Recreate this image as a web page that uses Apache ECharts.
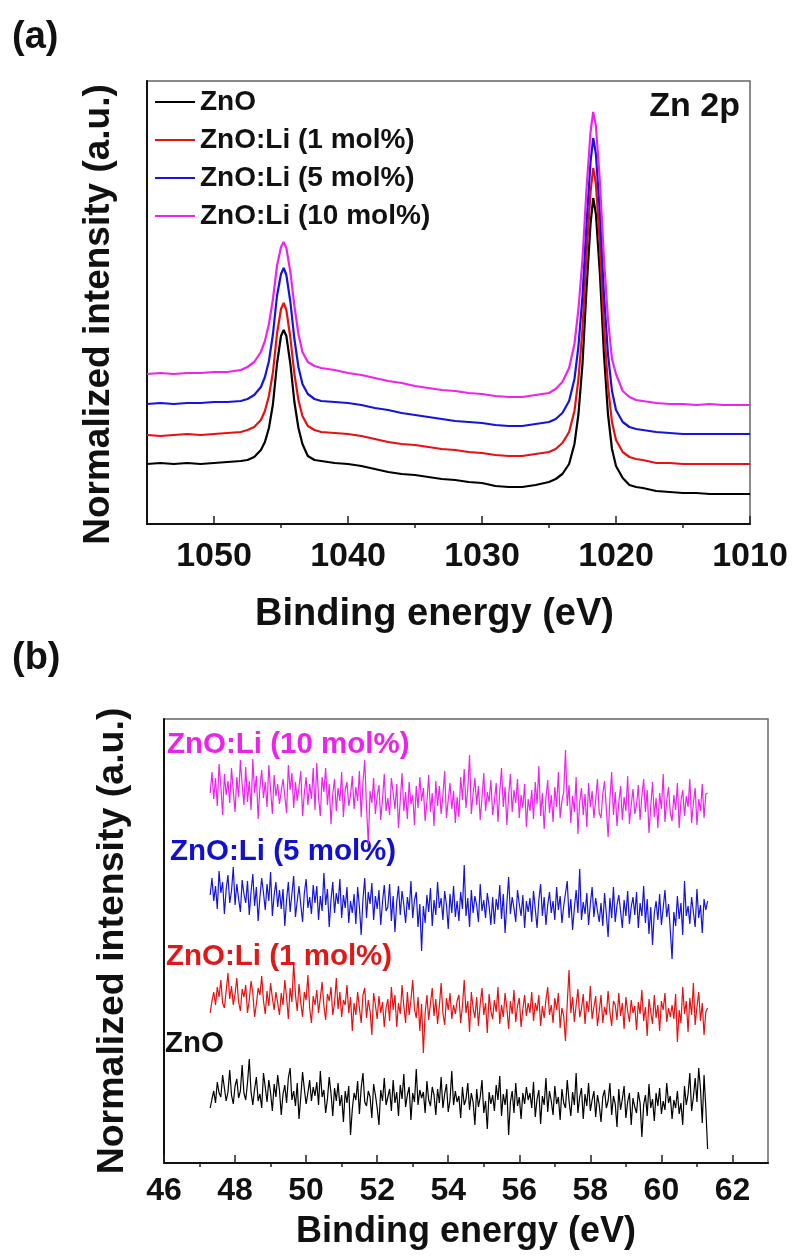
<!DOCTYPE html>
<html><head><meta charset="utf-8">
<script src="https://cdn.jsdelivr.net/npm/echarts@6/dist/echarts.min.js"></script>
<style>html,body{margin:0;padding:0;background:#fff}#c{width:793px;height:1256px}</style>
</head><body><div id="c"></div>
<script>
// ---------- Panel (a): Zn 2p ----------
const energyA = [1055,1054,1053,1052,1051,1050,1049,1048,1047.5,1047,1046.5,1046.2,1045.9,1045.6,1045.3,1045.0,1044.8,1044.6,1044.3,1044.0,1043.7,1043.4,1043.0,1042.5,1042,1041,1040,1039,1038,1037,1036,1035,1034,1033,1032,1031,1030,1029,1028,1027,1026,1025,1024.5,1024,1023.5,1023.1,1022.8,1022.5,1022.2,1021.9,1021.7,1021.5,1021.2,1020.9,1020.6,1020.3,1020.0,1019.5,1019,1018.5,1018,1017,1016,1015,1014,1013,1012,1011,1010];
const znoA  = [60,61,60,61,60,61,62,63,64,67,74,82,96,120,160,188,194,188,160,122,96,80,68,64,63,61,60,58,55,52,50,49,47,45,44,42,41,38,37,37,39,42,45,50,60,80,110,160,235,300,326,310,250,170,110,75,58,46,39,37,36,33,32,31,31,30,30,30,30];
const li1A  = [89,88,89,90,89,90,91,92,94,97,104,113,128,152,190,215,221,214,186,150,124,108,98,94,92,91,90,88,85,82,80,79,77,75,74,72,71,69,68,68,70,72,75,81,92,113,145,195,268,332,356,340,278,198,138,102,84,72,67,65,64,61,61,60,60,60,60,60,60];
const li5A  = [120,121,120,121,121,122,122,123,125,129,137,147,163,190,228,250,256,249,222,185,157,140,130,125,123,122,121,119,116,114,111,109,107,105,103,102,101,99,98,98,100,102,105,111,123,145,178,228,300,362,386,370,310,230,170,133,114,102,97,95,94,92,91,90,90,90,90,90,90];
const li10A = [150,151,150,151,151,152,152,154,157,162,172,183,200,225,258,277,282,276,252,218,190,172,162,158,156,154,151,149,146,143,141,138,136,134,133,131,130,128,127,127,129,131,135,142,156,180,215,265,335,392,412,398,342,265,205,165,150,133,127,124,123,121,120,120,119,120,119,119,119];
const ticksA = [1050,1040,1030,1020,1010];
const minorTicksA = [1045,1035,1025,1015];

// ---------- Panel (b) ----------
const energyB = [
47.30,47.35,47.40,47.45,47.50,47.55,47.60,47.65,47.70,47.75,47.80,47.85,47.90,47.95,48.00,48.05,48.10,48.15,48.20,48.25,
48.30,48.35,48.40,48.45,48.50,48.55,48.60,48.65,48.70,48.75,48.80,48.85,48.90,48.95,49.00,49.05,49.10,49.15,49.20,49.25,
49.30,49.35,49.40,49.45,49.50,49.55,49.60,49.65,49.70,49.75,49.80,49.85,49.90,49.95,50.00,50.05,50.10,50.15,50.20,50.25,
50.30,50.35,50.40,50.45,50.50,50.55,50.60,50.65,50.70,50.75,50.80,50.85,50.90,50.95,51.00,51.05,51.10,51.15,51.20,51.25,
51.30,51.35,51.40,51.45,51.50,51.55,51.60,51.65,51.70,51.75,51.80,51.85,51.90,51.95,52.00,52.05,52.10,52.15,52.20,52.25,
52.30,52.35,52.40,52.45,52.50,52.55,52.60,52.65,52.70,52.75,52.80,52.85,52.90,52.95,53.00,53.05,53.10,53.15,53.20,53.25,
53.30,53.35,53.40,53.45,53.50,53.55,53.60,53.65,53.70,53.75,53.80,53.85,53.90,53.95,54.00,54.05,54.10,54.15,54.20,54.25,
54.30,54.35,54.40,54.45,54.50,54.55,54.60,54.65,54.70,54.75,54.80,54.85,54.90,54.95,55.00,55.05,55.10,55.15,55.20,55.25,
55.30,55.35,55.40,55.45,55.50,55.55,55.60,55.65,55.70,55.75,55.80,55.85,55.90,55.95,56.00,56.05,56.10,56.15,56.20,56.25,
56.30,56.35,56.40,56.45,56.50,56.55,56.60,56.65,56.70,56.75,56.80,56.85,56.90,56.95,57.00,57.05,57.10,57.15,57.20,57.25,
57.30,57.35,57.40,57.45,57.50,57.55,57.60,57.65,57.70,57.75,57.80,57.85,57.90,57.95,58.00,58.05,58.10,58.15,58.20,58.25,
58.30,58.35,58.40,58.45,58.50,58.55,58.60,58.65,58.70,58.75,58.80,58.85,58.90,58.95,59.00,59.05,59.10,59.15,59.20,59.25,
59.30,59.35,59.40,59.45,59.50,59.55,59.60,59.65,59.70,59.75,59.80,59.85,59.90,59.95,60.00,60.05,60.10,60.15,60.20,60.25,
60.30,60.35,60.40,60.45,60.50,60.55,60.60,60.65,60.70,60.75,60.80,60.85,60.90,60.95,61.00,61.05,61.10,61.15,61.20,61.25,
61.30];
const znoB = [
55,64,72,60,81,70,66,88,75,62,71,93,68,59,77,84,65,72,98,70,
63,80,104,71,58,74,86,62,69,55,90,76,61,83,70,52,79,66,88,73,
48,69,78,60,85,95,63,72,57,80,44,66,91,74,59,70,83,62,76,67,
81,58,92,66,73,50,64,86,70,47,75,62,80,57,68,41,72,60,77,28,
54,70,63,82,49,75,90,61,57,72,66,45,79,68,55,38,73,62,85,58,
66,74,52,83,60,71,47,78,64,89,56,68,76,43,70,61,94,58,73,65,
71,50,82,63,57,76,68,48,74,60,86,55,69,79,51,63,92,58,72,61,
67,45,76,58,64,80,53,70,61,38,74,56,66,83,50,62,34,71,59,68,
52,78,63,87,47,69,58,74,28,61,72,50,80,57,66,44,70,59,76,63,
70,55,81,46,64,73,39,67,58,85,51,72,62,48,77,59,66,43,74,60,
55,83,62,47,71,58,90,50,66,75,44,69,57,80,52,63,72,46,68,58,
41,66,73,55,62,80,48,67,59,36,74,53,64,77,45,61,70,38,65,56,
50,71,60,26,58,68,47,79,55,64,42,70,57,75,49,62,53,80,60,67,
44,63,55,72,49,60,38,77,58,69,90,52,66,85,61,95,74,40,88,55,
14];
const li1B = [
150,162,171,158,176,166,183,160,155,172,190,164,177,158,169,185,161,152,174,166,
178,150,163,182,170,146,159,175,168,187,162,149,172,157,180,165,153,171,160,148,
170,158,183,166,144,175,161,201,168,152,179,160,146,171,163,188,155,140,167,158,
173,150,165,181,157,143,169,162,176,148,160,185,154,171,146,163,158,178,150,166,
132,160,148,171,155,140,168,175,145,163,152,128,170,158,144,167,150,161,136,155,
164,142,176,153,168,136,160,149,178,157,140,171,148,163,183,154,145,166,132,159,
110,150,168,143,160,175,147,164,139,157,180,150,138,165,153,170,144,158,149,162,
168,140,157,183,150,162,131,171,155,145,166,137,159,175,148,160,130,169,152,144,
163,151,176,139,158,146,170,155,134,162,149,173,141,157,165,136,154,168,147,160,
150,171,142,160,152,168,137,157,145,163,176,148,158,140,165,153,170,135,155,147,
122,160,193,150,166,141,158,174,146,154,169,139,162,151,177,144,156,167,137,152,
168,140,156,148,172,151,137,162,158,143,170,147,160,134,166,152,141,163,150,157,
133,161,149,173,142,156,127,164,151,139,168,145,158,132,162,153,170,141,155,146,
158,144,169,121,153,140,176,149,162,131,165,148,180,138,156,171,142,160,128,151,
155];
const li5B = [
268,285,262,277,254,292,270,281,249,274,288,260,272,296,258,279,264,251,283,269,
260,282,248,271,289,257,276,242,266,285,270,253,279,262,291,247,268,281,256,273,
254,274,237,263,281,251,269,287,246,262,277,258,241,270,284,255,266,249,278,260,
277,243,267,252,290,258,274,236,263,281,250,270,259,284,245,268,255,276,240,262,
250,269,239,276,256,228,264,285,245,271,259,280,243,267,254,273,238,261,278,252,
256,279,242,267,231,261,277,248,272,258,240,266,253,282,245,263,271,236,259,212,
257,240,268,251,275,237,263,248,281,255,265,243,272,258,234,269,250,277,246,262,
242,271,254,298,247,265,236,273,250,267,258,241,279,252,263,245,270,257,238,266,
239,264,253,278,244,269,230,260,286,249,266,255,241,273,259,247,268,235,262,251,
265,241,272,254,235,263,279,247,266,238,258,271,250,262,243,276,253,267,240,257,
257,282,245,264,233,255,273,250,294,243,261,249,270,238,259,276,246,265,252,241,
260,237,270,249,226,265,245,276,241,258,268,252,235,263,247,272,239,256,266,248,
271,235,260,247,277,240,264,229,256,218,250,262,243,269,238,255,273,246,259,233,
204,251,237,267,244,260,228,282,247,257,239,266,251,236,274,245,258,230,264,253,
262];
const li10B = [
370,391,364,385,357,399,377,348,389,368,382,360,395,372,351,386,366,403,378,358,
396,361,382,353,404,370,387,344,376,393,365,381,356,398,373,349,388,367,379,359,
361,384,367,350,398,373,390,355,381,362,376,392,347,370,386,358,379,364,395,353,
400,365,347,386,371,395,358,379,339,369,384,352,375,362,391,346,373,381,357,368,
387,354,376,362,392,346,381,403,356,319,372,360,385,349,367,378,343,364,389,352,
365,348,385,370,354,379,335,363,390,352,371,344,381,359,368,338,377,355,386,362,
375,342,361,388,351,370,337,382,357,377,349,368,392,345,363,380,354,372,340,366,
346,386,363,394,355,374,408,349,369,385,358,377,343,365,390,352,371,361,383,348,
362,380,341,371,395,356,376,338,367,389,351,373,360,384,345,368,355,379,336,364,
352,373,344,381,359,397,347,370,334,365,383,350,368,341,376,356,391,345,362,371,
413,357,378,340,367,351,386,329,361,375,348,369,336,380,356,372,345,363,384,350,
345,369,382,354,326,364,391,348,371,337,360,377,343,366,352,387,339,358,374,349,
358,378,343,367,384,351,373,330,357,381,346,365,335,370,354,389,341,362,376,350,
342,368,353,380,335,362,373,347,367,356,384,340,360,375,338,364,352,379,345,369,
370];
const ticksB = [46,48,50,52,54,56,58,60,62];
const minorTicksB = [47,49,51,53,55,57,59,61];

const seriesNames = ['ZnO','ZnO:Li (1 mol%)','ZnO:Li (5 mol%)','ZnO:Li (10 mol%)'];
const colors = ['#000000','#e81010','#1414dc','#ee22ee'];
const labelColors = ['#111111','#e01818','#1010d0','#ee22ee'];

const FONT = 'Liberation Sans, Arial, sans-serif';
const pair = (xs, ys) => xs.map((x, i) => [x, ys[i]]);
const setA = [znoA, li1A, li5A, li10A];
const setB = [znoB, li1B, li5B, li10B];

const chart = echarts.init(document.getElementById('c'), null, {renderer: 'canvas'});

function mainX(gridIndex, min, max, inverse, ticks, fs, nfs, nameGap, margin, namePad) {
  return {
    type: 'value', gridIndex, min, max, inverse,
    name: 'Binding energy (eV)', nameLocation: 'middle', nameGap,
    nameTextStyle: {fontFamily: FONT, fontWeight: 'bold', fontSize: nfs, color: '#111', padding: namePad},
    axisLine: {show: true, onZero: false, lineStyle: {color: '#111', width: 2}},
    axisTick: {show: true, inside: true, length: 8, customValues: ticks, lineStyle: {color: '#222', width: 1.5}},
    axisLabel: {show: true, customValues: ticks, margin, formatter: v => String(v),
      fontFamily: FONT, fontWeight: 'bold', fontSize: fs, color: '#111'},
    splitLine: {show: false}
  };
}
function minorX(gridIndex, min, max, inverse, ticks) {
  return {
    type: 'value', gridIndex, min, max, inverse,
    axisLine: {show: false},
    axisTick: {show: true, inside: true, length: 4, customValues: ticks, lineStyle: {color: '#222', width: 1.5}},
    axisLabel: {show: false},
    splitLine: {show: false}
  };
}
function yAx(gridIndex, max, nameGap, fs, namePad) {
  return {
    type: 'value', gridIndex, min: 0, max,
    name: 'Normalized intensity (a.u.)', nameLocation: 'middle', nameGap,
    nameTextStyle: {fontFamily: FONT, fontWeight: 'bold', fontSize: fs, color: '#111', padding: namePad},
    axisLine: {show: true, onZero: false, lineStyle: {color: '#111', width: 2}},
    axisTick: {show: false}, axisLabel: {show: false}, splitLine: {show: false}
  };
}

const series = [];
seriesNames.forEach((n, i) => {
  series.push({
    name: n, type: 'line', xAxisIndex: 0, yAxisIndex: 0,
    data: pair(energyA, setA[i]), showSymbol: false, symbol: 'none',
    lineStyle: {color: colors[i], width: 2.2}, itemStyle: {color: colors[i]},
    z: 2 + i
  });
});
seriesNames.forEach((n, i) => {
  series.push({
    name: n + ' b', type: 'line', xAxisIndex: 2, yAxisIndex: 1,
    data: pair(energyB, setB[i]), showSymbol: false, symbol: 'none',
    lineStyle: {color: colors[i], width: 1.2}, itemStyle: {color: colors[i]},
    z: 2 + i
  });
});

const option = {
  animation: false,
  backgroundColor: '#ffffff',
  grid: [
    {left: 147, right: 43, top: 81, bottom: 732, show: true, borderColor: '#666', borderWidth: 1.5, backgroundColor: 'transparent'},
    {left: 164, right: 25, top: 719, bottom: 93, show: true, borderColor: '#666', borderWidth: 1.5, backgroundColor: 'transparent'}
  ],
  xAxis: [
    mainX(0, 1010, 1055, true, ticksA, 34, 38, 72, 16, [0, 28, 0, 0]),
    minorX(0, 1010, 1055, true, minorTicksA),
    mainX(1, 46, 63, false, ticksB, 32, 36, 51, 12, 0),
    minorX(1, 46, 63, false, minorTicksB)
  ],
  yAxis: [yAx(0, 443, 30, 37, [0, 24, 0, 0]), yAx(1, 444, 32, 37.5, 0)],
  legend: {
    data: seriesNames, orient: 'vertical', left: 155, top: 88, padding: 0,
    itemWidth: 40, itemHeight: 14, itemGap: 10,
    textStyle: {fontFamily: FONT, fontWeight: 'bold', fontSize: 28, color: '#111', lineHeight: 28},
    icon: 'path://M0,6 L40,6 L40,8 L0,8 Z'
  },
  graphic: [
    {type: 'text', left: 12, top: 19, style: {text: '(a)', font: 'bold 38px ' + FONT, fill: '#111'}},
    {type: 'text', left: 12, top: 640, style: {text: '(b)', font: 'bold 38px ' + FONT, fill: '#111'}},
    {type: 'text', right: 53, top: 90, style: {text: 'Zn 2p', font: 'bold 34px ' + FONT, fill: '#111'}},
    {type: 'text', left: 167, top: 730, style: {text: seriesNames[3], font: 'bold 29.5px ' + FONT, fill: labelColors[3]}},
    {type: 'text', left: 170, top: 837, style: {text: seriesNames[2], font: 'bold 29.5px ' + FONT, fill: labelColors[2]}},
    {type: 'text', left: 166, top: 942, style: {text: seriesNames[1], font: 'bold 29.5px ' + FONT, fill: labelColors[1]}},
    {type: 'text', left: 165, top: 1029, style: {text: seriesNames[0], font: 'bold 29.5px ' + FONT, fill: labelColors[0]}}
  ],
  series
};
chart.setOption(option);
</script>
</body></html>
